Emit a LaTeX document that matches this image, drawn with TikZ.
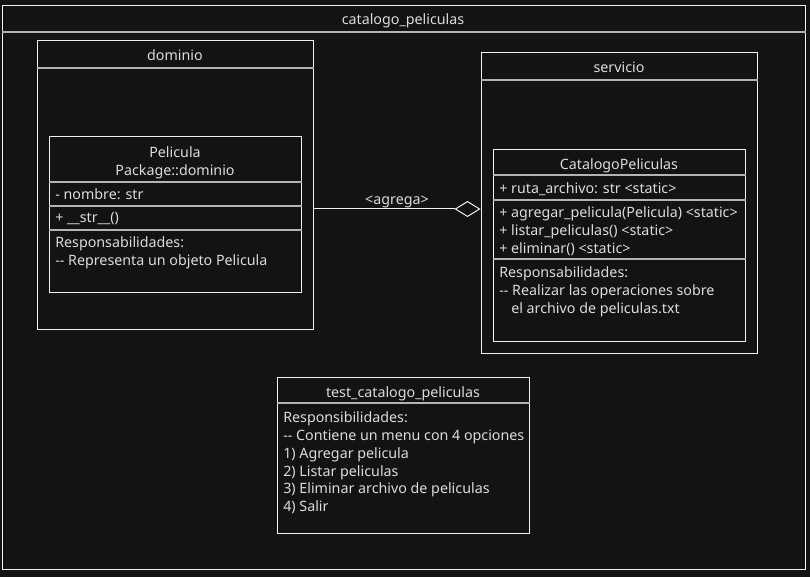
\documentclass[tikz,border=0pt]{standalone}
\usepackage{fontspec}
\setmainfont{Noto Sans}[Ligatures=TeXOff]
\usetikzlibrary{arrows.meta}
\usetikzlibrary{positioning}
\definecolor{bgdark}{HTML}{131313}
\definecolor{linewhite}{HTML}{F2F2F2}
\definecolor{sepgray}{HTML}{B4B4B4}
\definecolor{txtgray}{HTML}{DCDCDC}

\begin{document}
\begin{tikzpicture}
	[x=0.75pt,y=-0.75pt,
	every node/.style={text=txtgray,font=\fontsize{10.7}{13}\selectfont},
	pkg/.style={draw=linewhite,line width=0.75pt,rectangle,inner sep=0,minimum width=207pt},
	cls/.style={draw=linewhite,line width=0.75pt,rectangle,inner sep=0,minimum width=189pt},
	sep/.style={draw=sepgray,line width=1.1pt},
	txt/.style={inner sep=0,text height=10.6pt,text depth=2.2pt},
	lft/.style={txt,anchor=west}]
	\fill[bgdark] (0,0) rectangle (810,577);
	
	% outer package
	\node[pkg,minimum width=602.25pt,minimum height=422.25pt] (paquete) at (403.5,287.5) {};
	\draw[sep] (paquete.west |- 0,32) -- (paquete.east |- 0,32);
	\node[txt] (paqueteT) at (403,19) {catalogo\_peliculas};
	
	% dominio
	\node[pkg,minimum height=216pt] (dominio) at (175,185) {};
	\draw[sep] (dominio.west |- 0,68) -- (dominio.east |- 0,68);
	\node[txt] (dominioT) at (175,55) {dominio};
	
	\node[cls,minimum height=117pt] (pelicula) at (175,215) {};
	\foreach \y in {182,206,230}
	\draw[sep] (pelicula.west |- 0,\y) -- (pelicula.east |- 0,\y);
	\node[txt] (peliculaT) at (175,152) {Pelicula};
	\node[txt] (peliculaP) at (175,170) {Package::dominio};
	\node[lft] (peliculaA) at (55,194) {- nombre: str};
	\node[lft] (peliculaM) at (55,217) {+ \_\_str\_\_()};
	\node[lft] (peliculaR1) at (55,242) {Responsabilidades:};
	\node[lft] (peliculaR2) at (55,260) {-- Representa un objeto Pelicula};
	
	% servicio
	\node[pkg,minimum height=225pt] (servicio) at (619,203) {};
	\draw[sep] (servicio.west |- 0,80) -- (servicio.east |- 0,80);
	\node[txt] (servicioT) at (619,67) {servicio};
	
	\node[cls,minimum height=143.25pt] (catalogo) at (619,245.5) {};
	\foreach \y in {175,200,259}
	\draw[sep] (catalogo.west |- 0,\y) -- (catalogo.east |- 0,\y);
	\node[txt] (catalogoT) at (619,164) {CatalogoPeliculas};
	\node[lft] (catalogoA) at (499,188) {+ ruta\_archivo: str <static>};
	\node[lft] (catalogoM1) at (499,212) {+ agregar\_pelicula(Pelicula) <static>};
	\node[lft] (catalogoM2) at (499,230) {+ listar\_peliculas() <static>};
	\node[lft] (catalogoM3) at (499,248) {+ eliminar() <static>};
	\node[lft] (catalogoR1) at (499,272) {Responsabilidades:};
	\node[lft] (catalogoR2) at (499,290) {-- Realizar las operaciones sobre};
	\node[lft] (catalogoR3) at (511,308) {el archivo de peliculas.txt};
	
	% test
	\node[cls,minimum height=117pt] (test) at (403,455) {};
	\draw[sep] (test.west |- 0,403) -- (test.east |- 0,403);
	\node[txt] (testT) at (403,392) {test\_catalogo\_peliculas};
	\foreach \i/\t in {0/Responsibilidades:, 1/-- Contiene un menu con 4 opciones,
		2/1) Agregar pelicula, 3/2) Listar peliculas,
		4/3) Eliminar archivo de peliculas, 5/4) Salir}
	\node[lft] (test\i) at (283,{417+17.8*\i}) {\t};
	
	% aggregation
	\draw[linewhite,line width=0.75pt,-{Diamond[open,length=19.5pt,width=12pt,fill=bgdark]}]
	(dominio.east |- 0,209) -- (servicio.west |- 0,209);
	\node[txt] (agrega) at (397,199) {<agrega>};
\end{tikzpicture}
\end{document}
